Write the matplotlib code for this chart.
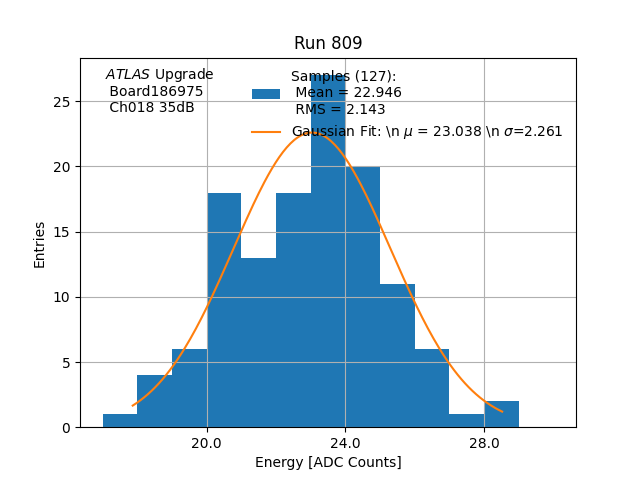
import matplotlib
matplotlib.use('Agg')
import matplotlib.pyplot as plt
import numpy as np

# histogram bin edges and counts
bin_edges = np.arange(17, 31, 1)
counts = [1, 4, 6, 18, 13, 18, 27, 20, 11, 6, 1, 2, 0]

n_samples = 127
mean = 22.946
rms = 2.143
fit_mu = 23.038
fit_sigma = 2.261
fit_amp = 22.6
fit_lo, fit_hi = 17.87, 28.52

fig, ax = plt.subplots(figsize=(6.4, 4.8), dpi=100)
ax.hist(bin_edges[:-1], bins=bin_edges, weights=counts,
        label=f"Samples ({n_samples}):\n Mean = {mean:.3f}\n RMS = {rms:.3f}")

x = np.linspace(fit_lo, fit_hi, 200)
y = fit_amp * np.exp(-(x - fit_mu) ** 2 / (2 * fit_sigma ** 2))
ax.plot(x, y, color='C1',
        label=r"Gaussian Fit: \n $\mu$ = %.3f \n $\sigma$=%.3f" % (fit_mu, fit_sigma))

ax.set_xticks([20, 24, 28])
ax.set_xticklabels(["20.0", "24.0", "28.0"])
ax.grid(True)
ax.set_xlabel("Energy [ADC Counts]")
ax.set_ylabel("Entries")
ax.set_title("Run 809")
ax.text(0.05, 0.978, "$ATLAS$ Upgrade\n Board186975\n Ch018 35dB",
        transform=ax.transAxes, va='top', ha='left', linespacing=1.15)
ax.legend(loc='upper right', frameon=False)

plt.savefig("out.png")
